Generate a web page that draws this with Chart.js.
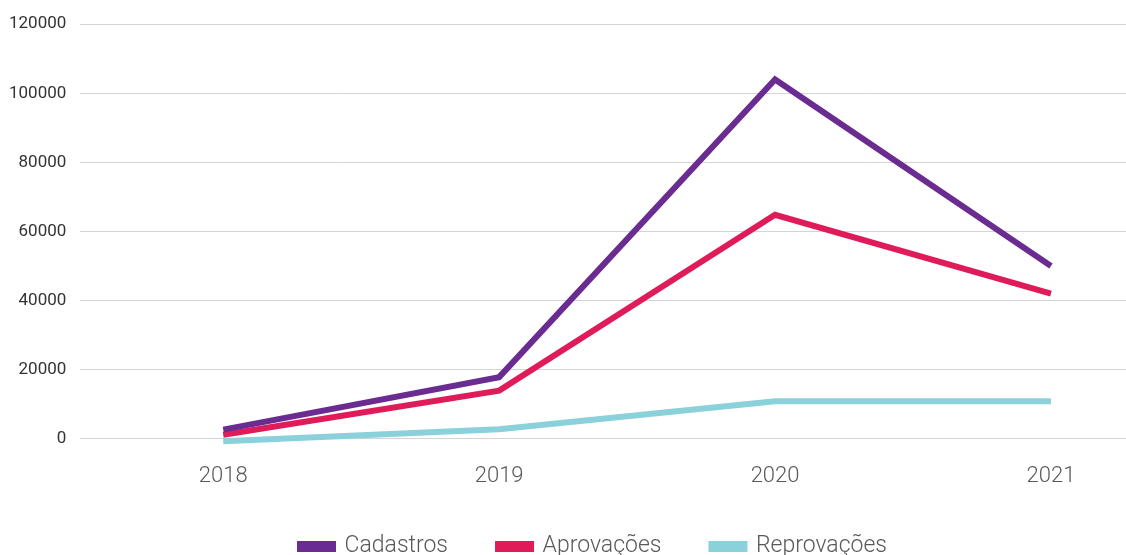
<!DOCTYPE html>
<html>
<head>
<meta charset="utf-8">
<script src="https://cdn.jsdelivr.net/npm/chart.js@4"></script>
<style>
  html, body { margin: 0; padding: 0; background: #fff; }
  #wrap { width: 1126px; height: 555px; }
</style>
</head>
<body>
<div id="wrap"><canvas id="lineChart"></canvas></div>
<script>
const years = [2018, 2019, 2020, 2021];
const cadastros = [2600, 17800, 104000, 50000];
const aprovacoes = [1100, 13900, 64800, 42000];
const reprovacoes = [-800, 2700, 10800, 10800];
const yTicks = [0, 20000, 40000, 60000, 80000, 100000, 120000];

function toPoints(values) {
  return years.map((y, i) => ({ x: y, y: values[i] }));
}

// nudge the legend a bit right and down, like the original
const legendShift = {
  id: "legendShift",
  afterLayout(chart) {
    const lg = chart.legend;
    if (!lg) return;
    lg.left += 33; lg.right += 33;
    lg.top += 6; lg.bottom += 6;
  }
};

const ctx = document.getElementById("lineChart");

new Chart(ctx, {
  type: "line",
  data: {
    datasets: [
      { label: "Cadastros", data: toPoints(cadastros), borderColor: "#6a2c91", backgroundColor: "#6a2c91", clip: false },
      { label: "Aprovações", data: toPoints(aprovacoes), borderColor: "#e01b5a", backgroundColor: "#e01b5a", clip: false },
      { label: "Reprovações", data: toPoints(reprovacoes), borderColor: "#8ad1dc", backgroundColor: "#8ad1dc", clip: false }
    ]
  },
  options: {
    responsive: true,
    maintainAspectRatio: false,
    animation: false,
    layout: { padding: { top: 13, left: -5, right: 0, bottom: 0 } },
    elements: {
      line: { borderWidth: 6, tension: 0, borderJoinStyle: "miter", borderCapStyle: "butt" },
      point: { radius: 0, hoverRadius: 0 }
    },
    scales: {
      x: {
        type: "linear",
        min: 2017.482,
        max: 2021.272,
        grid: { display: false },
        border: { display: false },
        ticks: {
          stepSize: 1,
          includeBounds: false,
          padding: 17,
          color: "#595959",
          font: { family: "Roboto", size: 22, weight: 300 },
          callback: (v) => (years.includes(v) ? String(v) : "")
        }
      },
      y: {
        min: 0,
        max: 120000,
        grid: { color: "#d4d4d4", lineWidth: 1, drawTicks: false },
        border: { display: false },
        afterBuildTicks: (axis) => { axis.ticks = yTicks.map((v) => ({ value: v })); },
        ticks: {
          padding: 14,
          color: "#333333",
          font: { family: "Roboto", size: 17 },
          callback: (v) => String(v)
        }
      }
    },
    plugins: {
      tooltip: { enabled: false },
      legend: {
        position: "bottom",
        maxHeight: 48,
        labels: {
          boxWidth: 33,
          boxHeight: 5,
          padding: 22,
          color: "#595959",
          font: { family: "Roboto", size: 23, weight: 300 },
          generateLabels: (chart) => {
            const items = Chart.defaults.plugins.legend.labels.generateLabels(chart);
            // extra room after each name, like the original spacing
            items.forEach((it, i) => { if (i < items.length - 1) it.text = it.text + "     "; });
            return items;
          }
        }
      }
    }
  },
  plugins: [legendShift]
});
</script>
</body>
</html>
